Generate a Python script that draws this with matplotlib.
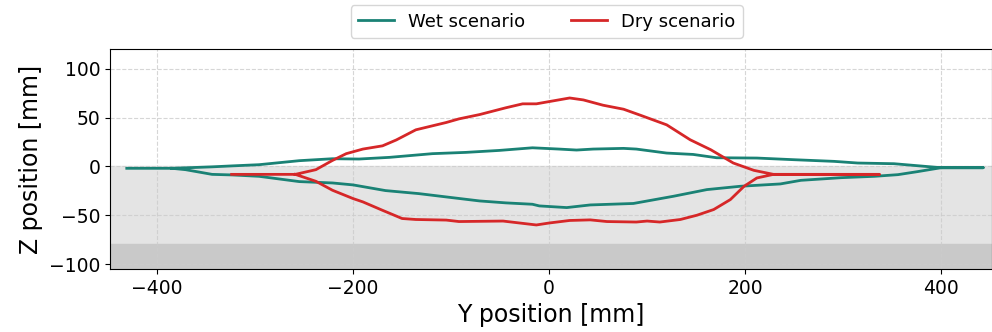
import numpy as np
import matplotlib.pyplot as plt

# wet scenario: upper boundary left->right, then lower boundary right->left
wet_y = [-431, -385, -371, -344, -323, -296, -255, -221, -194, -163, -119, -85, -51, -17, 10,
         28, 45, 76, 89, 120, 147, 171, 212, 250, 291, 315, 352, 400, 443,
         400, 376, 356, 332, 298, 257, 236, 195, 161, 127, 86, 42, 18, -10, -17, -44, -71,
         -105, -133, -167, -200, -221, -255, -296, -323, -344, -371, -385]
wet_z = [-2, -2, -1.5, -0.5, 0.5, 1.7, 5.8, 7.8, 7.5, 9.2, 13, 14.3, 16.3, 19, 17.7,
         16.7, 17.7, 18.4, 17.7, 13.6, 12.2, 8.8, 8.5, 6.8, 5.1, 3.4, 2.7, -1.4, -1.4,
         -1.4, -5.4, -8.5, -10.2, -11.6, -14.3, -18, -20.4, -23.8, -30.6, -38, -39.5, -42.2, -40.5, -38.8, -37.4, -35.4,
         -31.3, -27.9, -24.8, -19, -17, -15.6, -10.2, -8.8, -8.2, -3.4, -2]

# dry scenario
dry_y = [-324, -259, -238, -221, -207, -190, -170, -156, -136, -105, -92, -71, -44, -27, -13, 0,
         21, 35, 55, 76, 93, 120, 144, 165, 188, 209, 229, 337,
         229, 212, 199, 185, 168, 151, 134, 113, 100, 89, 59, 42, 21, 0, -13, -47, -92, -105,
         -136, -150, -170, -190, -200, -221, -238, -259]
dry_z = [-8.2, -8.2, -3.4, 6.1, 13, 17.7, 21, 27, 37.4, 44.9, 48.6, 53, 60, 64, 64, 66.3,
         70, 68, 62.6, 58.5, 52.4, 42.5, 27.2, 17, 3.4, -4.1, -8.2, -8.2,
         -8.2, -11.9, -20.4, -34, -44.2, -50, -54.4, -57, -56, -57, -56.5, -54.8, -55.4, -58, -60, -56, -56.5, -55,
         -54.4, -53.4, -45, -36.4, -33, -24.5, -15.3, -8.2]

fig = plt.figure(figsize=(9.92, 3.32), dpi=100)
ax = fig.add_axes([0.111, 0.19, 0.889, 0.662])

ax.axhspan(-80, 0, color='#e4e4e4', zorder=0)
ax.axhspan(-110, -80, color='#c9c9c9', zorder=0)

ax.plot(wet_y, wet_z, color='#1a8275', lw=2, label='Wet scenario')
ax.plot(dry_y, dry_z, color='#d62728', lw=2, label='Dry scenario')

ax.set_xlim(-448, 452)
ax.set_ylim(-105, 120)
ax.set_xticks([-400, -200, 0, 200, 400])
ax.set_yticks([-100, -50, 0, 50, 100])
ax.tick_params(labelsize=13.5)
ax.set_xlabel('Y position [mm]', fontsize=17)
ax.set_ylabel('Z position [mm]', fontsize=17)
ax.grid(True, linestyle='--', color='#cccccc', alpha=0.8)
ax.set_axisbelow(True)
ax.legend(loc='lower center', bbox_to_anchor=(0.495, 1.01), ncol=2, fontsize=13,
          frameon=True, columnspacing=2.5)

plt.savefig('out.png')
